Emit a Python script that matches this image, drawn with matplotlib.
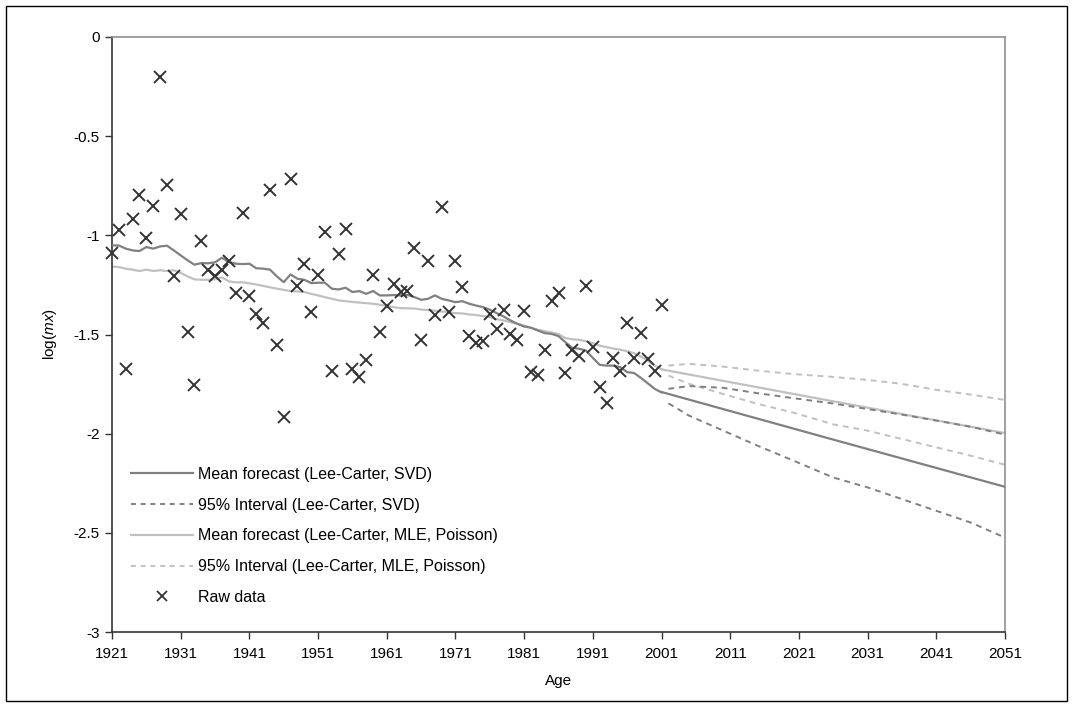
import matplotlib
matplotlib.use("Agg")
import matplotlib.pyplot as plt
from matplotlib.lines import Line2D
from matplotlib.patches import Rectangle

plt.rcParams['font.family'] = ['Liberation Sans', 'DejaVu Sans']
plt.rcParams['mathtext.fontset'] = 'custom'
plt.rcParams['mathtext.it'] = 'Liberation Sans:italic'
plt.rcParams['mathtext.rm'] = 'Liberation Sans'

# ---------------- data ----------------
raw_years = list(range(1921, 2002))
raw_values = [
    -1.089, -0.975, -1.673, -0.919, -0.795, -1.012, -0.854, -0.200, -0.744, -1.207,
    -0.892, -1.488, -1.753, -1.030, -1.177, -1.204, -1.177, -1.130, -1.290, -0.886,
    -1.308, -1.399, -1.444, -0.769, -1.551, -1.914, -0.714, -1.256, -1.143, -1.389,
    -1.199, -0.983, -1.682, -1.093, -0.970, -1.673, -1.715, -1.628, -1.199, -1.485,
    -1.355, -1.246, -1.286, -1.281, -1.062, -1.530, -1.131, -1.401, -0.855, -1.386,
    -1.130, -1.259, -1.510, -1.544, -1.532, -1.397, -1.471, -1.374, -1.495, -1.530,
    -1.379, -1.690, -1.704, -1.577, -1.333, -1.290, -1.694, -1.576, -1.606, -1.253,
    -1.564, -1.766, -1.847, -1.618, -1.685, -1.443, -1.620, -1.492, -1.626, -1.685,
    -1.350,
]

fit_years = list(range(1921, 2002))
svd_fit = [
    -1.051, -1.051, -1.067, -1.076, -1.079, -1.059, -1.067, -1.056, -1.052, -1.076,
    -1.101, -1.126, -1.148, -1.140, -1.141, -1.136, -1.113, -1.135, -1.143, -1.145,
    -1.143, -1.166, -1.168, -1.173, -1.207, -1.236, -1.197, -1.219, -1.224, -1.241,
    -1.239, -1.239, -1.269, -1.273, -1.264, -1.286, -1.281, -1.295, -1.281, -1.303,
    -1.303, -1.301, -1.303, -1.300, -1.311, -1.325, -1.320, -1.303, -1.320, -1.328,
    -1.337, -1.332, -1.345, -1.354, -1.362, -1.375, -1.392, -1.409, -1.429, -1.446,
    -1.460, -1.466, -1.480, -1.493, -1.497, -1.508, -1.539, -1.567, -1.572, -1.581,
    -1.618, -1.653, -1.657, -1.657, -1.665, -1.690, -1.694, -1.719, -1.746, -1.774,
    -1.792,
]
mle_fit = [
    -1.157, -1.160, -1.168, -1.173, -1.180, -1.173, -1.180, -1.176, -1.180, -1.176,
    -1.190, -1.207, -1.222, -1.224, -1.224, -1.222, -1.212, -1.232, -1.237, -1.237,
    -1.242, -1.248, -1.255, -1.262, -1.269, -1.275, -1.281, -1.283, -1.286, -1.295,
    -1.303, -1.312, -1.320, -1.328, -1.332, -1.336, -1.339, -1.342, -1.345, -1.350,
    -1.356, -1.362, -1.367, -1.368, -1.369, -1.374, -1.377, -1.380, -1.384, -1.387,
    -1.392, -1.394, -1.399, -1.402, -1.407, -1.412, -1.423, -1.429, -1.438, -1.446,
    -1.455, -1.466, -1.476, -1.483, -1.490, -1.498, -1.518, -1.524, -1.527, -1.534,
    -1.544, -1.556, -1.564, -1.571, -1.577, -1.584, -1.594, -1.611, -1.631, -1.657,
    -1.675,
]

mean_years = [2001, 2026, 2051]
svd_mean = [-1.790, -2.030, -2.268]
mle_mean = [-1.676, -1.837, -1.997]

int_years = [2002, 2005, 2010, 2015, 2020, 2026, 2031, 2036, 2041, 2046, 2051]
svd_upper = [-1.774, -1.760, -1.769, -1.796, -1.820, -1.848, -1.876, -1.904, -1.934, -1.965, -2.005]
svd_lower = [-1.847, -1.909, -1.985, -2.061, -2.133, -2.221, -2.271, -2.330, -2.389, -2.448, -2.524]
mle_upper = [-1.657, -1.648, -1.662, -1.682, -1.699, -1.714, -1.729, -1.749, -1.779, -1.803, -1.830]
mle_lower = [-1.707, -1.749, -1.800, -1.850, -1.892, -1.953, -1.985, -2.027, -2.069, -2.111, -2.157]

x_ticks = list(range(1921, 2052, 10))
y_ticks = [0, -0.5, -1, -1.5, -2, -2.5, -3]
y_tick_labels = ['0', '-0.5', '-1', '-1.5', '-2', '-2.5', '-3']

labels = [
    'Mean forecast (Lee-Carter, SVD)',
    '95% Interval (Lee-Carter, SVD)',
    'Mean forecast (Lee-Carter, MLE, Poisson)',
    '95% Interval (Lee-Carter, MLE, Poisson)',
    'Raw data',
]

# ---------------- figure ----------------
W, H = 1073, 707
fig = plt.figure(figsize=(W / 100, H / 100), dpi=100)
ax = fig.add_axes([112 / W, 1 - 632 / H, (1005 - 112) / W, (632 - 37) / H])

dark = '#808080'
light = '#c0c0c0'
dash = (0, (3.0, 2.5))

ax.plot(fit_years, svd_fit, color=dark, lw=1.6, zorder=3)
ax.plot(fit_years, mle_fit, color=light, lw=1.6, zorder=2)
ax.plot(mean_years, svd_mean, color=dark, lw=1.6, zorder=3)
ax.plot(mean_years, mle_mean, color=light, lw=1.6, zorder=2)
ax.plot(int_years, svd_upper, color=dark, lw=1.4, linestyle=dash, zorder=3)
ax.plot(int_years, svd_lower, color=dark, lw=1.4, linestyle=dash, zorder=3)
ax.plot(int_years, mle_upper, color=light, lw=1.4, linestyle=dash, zorder=2)
ax.plot(int_years, mle_lower, color=light, lw=1.4, linestyle=dash, zorder=2)
ax.plot(raw_years, raw_values, linestyle='none', marker='x', color='#333333',
        markersize=8, markeredgewidth=1.4, zorder=4, clip_on=False)

ax.set_xlim(1921, 2051)
ax.set_ylim(-3, 0)
ax.set_xticks(x_ticks)
ax.set_xticklabels([str(t) for t in x_ticks])
ax.set_yticks(y_ticks)
ax.set_yticklabels(y_tick_labels)
ax.tick_params(axis='both', direction='out', length=5, width=1, color='#333333',
               labelsize=11, labelcolor='black')
ax.tick_params(axis='x', pad=6)
ax.tick_params(axis='y', pad=4)

for s in ['left', 'bottom']:
    ax.spines[s].set_color('#333333')
    ax.spines[s].set_linewidth(1.2)
for s in ['top', 'right']:
    ax.spines[s].set_color('#909090')
    ax.spines[s].set_linewidth(1.2)

ax.set_xlabel('Age', fontsize=11, labelpad=9)
ax.set_ylabel('log($\\mathit{mx}$)', fontsize=11, labelpad=10)

handles = [
    Line2D([], [], color=dark, lw=1.6),
    Line2D([], [], color=dark, lw=1.4, linestyle=(0, (2.5, 2.5))),
    Line2D([], [], color=light, lw=1.6),
    Line2D([], [], color=light, lw=1.4, linestyle=(0, (2.5, 2.5))),
    Line2D([], [], color='#333333', linestyle='none', marker='x', markersize=7, markeredgewidth=1.3),
]
fig.legend(handles, labels, loc='upper left', bbox_to_anchor=(131 / W, 1 - 467 / H),
           frameon=False, fontsize=11.5, handlelength=3.9, handletextpad=0.3,
           labelspacing=0.985, borderpad=0, borderaxespad=0)

fig.patches.append(Rectangle((6 / W, 6 / H), (W - 12) / W, (H - 12) / H,
                             transform=fig.transFigure, fill=False,
                             edgecolor='black', linewidth=1.0))

fig.savefig('out.png', dpi=100)
